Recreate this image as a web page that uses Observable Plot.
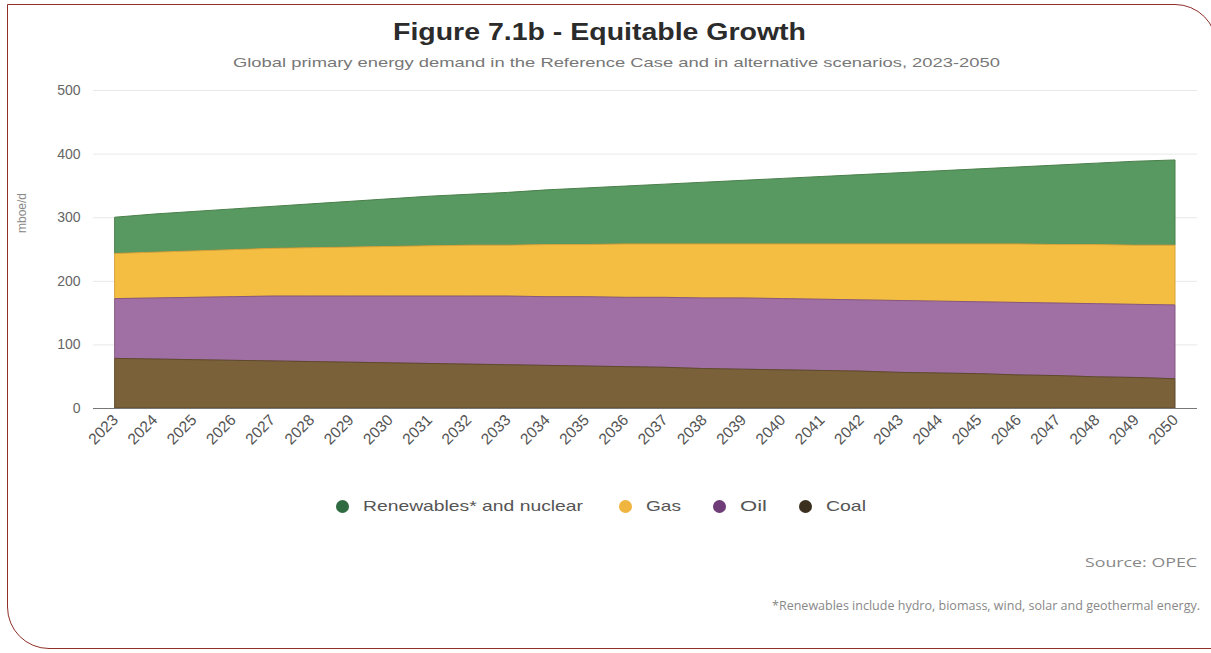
<!DOCTYPE html>
<html>
<head>
<meta charset="utf-8">
<script src="https://cdn.jsdelivr.net/npm/d3@7"></script>
<script src="https://cdn.jsdelivr.net/npm/@observablehq/plot@0.6"></script>
<style>
  html, body { margin: 0; padding: 0; background: #fff; }
  body { width: 1211px; height: 653px; position: relative; overflow: hidden; font-family: "Liberation Sans", Arial, sans-serif; }
  #frame { position: absolute; left: 7px; top: 4px; width: 1210px; height: 645px; border: 1.5px solid #8e2f2a; border-top-right-radius: 42px; border-bottom-left-radius: 42px; box-sizing: border-box; }
  .fit { position: absolute; white-space: nowrap; display: inline-block; }
  #title { top: 19px; font-size: 23px; font-weight: bold; color: #2b2b2b; }
  #subtitle { top: 55px; font-size: 13px; color: #777; }
  #ylabel { position: absolute; left: 22px; top: 213px; font-size: 12px; color: #888; transform: translate(-50%, -50%) rotate(-90deg); transform-origin: 50% 50%; white-space: nowrap; }
  #chart { position: absolute; top: 80px; left: 0; }
  .dot { position: absolute; width: 13px; height: 13px; border-radius: 50%; }
  .legtext { position: absolute; font-size: 14.5px; color: #555; white-space: nowrap; display: inline-block; }
  #source { top: 553px; font-size: 13px; color: #888; font-family: "Open Sans", sans-serif; }
  #note { top: 597px; font-size: 12.5px; color: #888; font-family: "Open Sans", sans-serif; }
</style>
</head>
<body>
<div id="frame"></div>
<div id="title" class="fit">Figure 7.1b - Equitable Growth</div>
<div id="subtitle" class="fit">Global primary energy demand in the Reference Case and in alternative scenarios, 2023-2050</div>
<div id="ylabel">mboe/d</div>
<div id="chart"></div>
<div id="legend"></div>
<div id="source" class="fit">Source: OPEC</div>
<div id="note" class="fit">*Renewables include hydro, biomass, wind, solar and geothermal energy.</div>
<script>
const years = [2023,2024,2025,2026,2027,2028,2029,2030,2031,2032,2033,2034,2035,2036,2037,2038,2039,2040,2041,2042,2043,2044,2045,2046,2047,2048,2049,2050];
const seriesNames = ["Renewables* and nuclear", "Gas", "Oil", "Coal"];
const coal = [78,77,76,75,74,73,72,71,70,69,68,67,66,65,64,62,61,60,59,58,56,55,54,52,51,49,48,46];
const oil = [94,96,98,100,102,103,104,105,106,107,108,108,109,109,110,111,112,112,112,112,113,113,113,114,114,115,115,116];
const gas = [71,72,73,74,75,76,77,78,79,80,80,82,82,84,84,85,85,86,87,88,89,90,91,92,92,93,93,94];
const renewables = [57,60,62,64,66,69,72,75,78,80,83,86,89,91,94,97,100,103,106,109,112,115,118,121,125,128,132,134];
const yTicks = [0,100,200,300,400,500];
const areaColors = ["#579961", "#f3be42", "#a070a4", "#7b6139"];
const strokeColors = ["#4a7f4a", "#d9a23a", "#86587f", "#5e4a2c"];
const dotColors = ["#2f6b40", "#f0b53f", "#6e3d78", "#3b301f"];

const valuesBySeries = {
  "Renewables* and nuclear": renewables,
  "Gas": gas,
  "Oil": oil,
  "Coal": coal
};
const data = [];
for (const s of seriesNames) {
  years.forEach((yr, i) => data.push({year: yr, series: s, value: valuesBySeries[s][i]}));
}

const chart = Plot.plot({
  width: 1211,
  height: 380,
  marginTop: 10,
  marginLeft: 93,
  marginRight: 14,
  marginBottom: 52,
  style: {fontFamily: "Liberation Sans, Arial, sans-serif", fontSize: "12px", color: "#555", background: "transparent"},
  x: {domain: [2023, 2050], inset: 22},
  y: {domain: [0, 500]},
  color: {domain: seriesNames, range: areaColors},
  marks: [
    Plot.ruleY(yTicks.filter(d => d > 0), {stroke: "#e8e8e8", strokeWidth: 1}),
    Plot.areaY(data, Plot.stackY({
      x: "year", y: "value", z: "series", fill: "series",
      order: ["Coal", "Oil", "Gas", "Renewables* and nuclear"],
      stroke: d => strokeColors[seriesNames.indexOf(d.series)],
      strokeWidth: 1
    })),
    Plot.ruleY([0], {stroke: "#777", strokeWidth: 1}),
    Plot.axisY({ticks: yTicks, tickSize: 0, tickPadding: 13, fontSize: 14, fill: "#666", label: null}),
    Plot.axisX({ticks: years, tickFormat: d => String(d), tickSize: 0, tickPadding: 9,
      tickRotate: -45, fontSize: 15.5, fill: "#555", label: null})
  ]
});
document.getElementById("chart").appendChild(chart);

// stretch a text element horizontally to a target extent
function fit(el, left, right) {
  const w = el.getBoundingClientRect().width;
  const k = (right - left) / w;
  el.style.left = left + "px";
  el.style.transformOrigin = "0 0";
  el.style.transform = `scaleX(${k})`;
}
fit(document.getElementById("title"), 393, 806);
fit(document.getElementById("subtitle"), 233, 1000);
fit(document.getElementById("source"), 1085, 1197);
fit(document.getElementById("note"), 772, 1200);

// legend
const legend = document.getElementById("legend");
const legendDotX = [342, 625, 719, 805];
const legendTextEnd = [583, 681, 767, 866];
seriesNames.forEach((s, i) => {
  const dot = document.createElement("div");
  dot.className = "dot";
  dot.style.top = "500px";
  dot.style.left = (legendDotX[i] - 6.5) + "px";
  dot.style.background = dotColors[i];
  legend.appendChild(dot);
  const t = document.createElement("div");
  t.className = "legtext";
  t.style.top = "498px";
  t.textContent = s;
  legend.appendChild(t);
  fit(t, legendDotX[i] + 21, legendTextEnd[i]);
});
</script>
</body>
</html>
